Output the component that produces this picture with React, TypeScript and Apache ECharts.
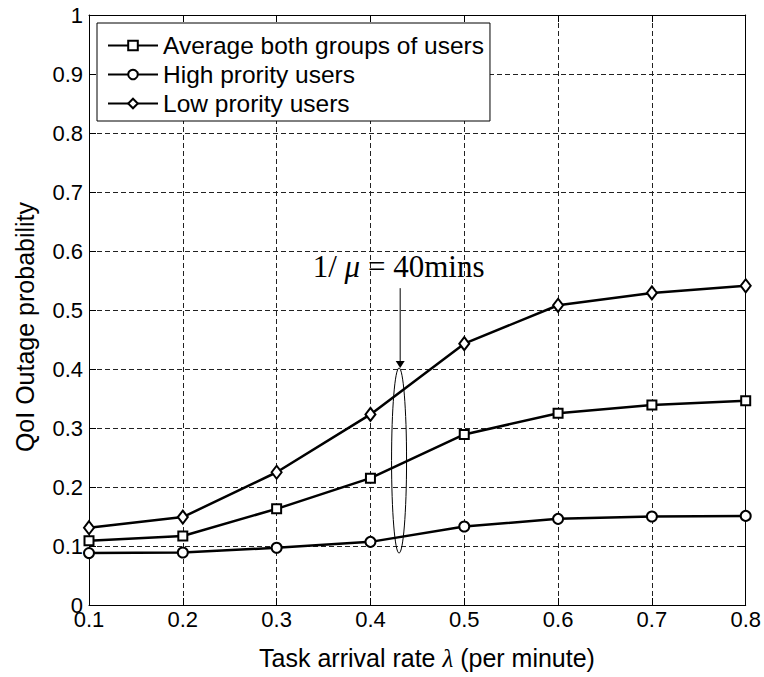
import React, { useEffect, useRef } from "react";
import * as echarts from "echarts";

// Task arrival rate (per minute)
const arrivalRates = [0.1, 0.2, 0.3, 0.4, 0.5, 0.6, 0.7, 0.8];
// QoI outage probability per user group
const averageBoth = [0.109, 0.117, 0.163, 0.215, 0.289, 0.325, 0.339, 0.346];
const highPriority = [0.088, 0.089, 0.097, 0.107, 0.133, 0.146, 0.15, 0.151];
const lowPriority = [0.131, 0.149, 0.225, 0.323, 0.443, 0.508, 0.529, 0.541];

const seriesNames = [
  "Average both groups of users",
  "High prority users",
  "Low prority users",
];
const seriesSymbols = ["rect", "circle", "diamond"];
const seriesSizes: (number | number[])[] = [9, 10, [10, 13]];

// annotation anchor points, in data units
const noteX = 0.4317;
const noteArrowFrom = 0.537;
const noteArrowTo = 0.4017;
const noteEllipseTop = 0.4017;
const noteEllipseBottom = 0.088;
const noteLabelX = 0.43;
const noteLabelY = 0.573;

const SANS = '"Liberation Sans", Arial, Helvetica, sans-serif';
const SERIF = '"Liberation Serif", "Times New Roman", serif';

const fmt = (v: number) => {
  const r = Math.round(v * 10) / 10;
  if (r === 0) return "0";
  if (r === 1) return "1";
  return r.toFixed(1);
};

export default function App() {
  const ref = useRef<HTMLDivElement>(null);

  useEffect(() => {
    if (!ref.current) return;
    const chart = echarts.init(ref.current, null, { renderer: "svg" });

    const values = [averageBoth, highPriority, lowPriority];

    const axisCommon = {
      type: "value" as const,
      axisLine: { show: true, onZero: false, lineStyle: { color: "#000", width: 1 } },
      axisTick: { show: true, inside: true, length: 7, lineStyle: { color: "#000" } },
    };

    chart.setOption({
      animation: false,
      backgroundColor: "#fff",
      grid: { left: 89, right: 17, top: 15, bottom: 72, containLabel: false },
      xAxis: [
        {
          ...axisCommon,
          position: "bottom",
          min: 0.1,
          max: 0.8,
          interval: 0.1,
          axisLabel: {
            formatter: fmt,
            color: "#000",
            fontFamily: SANS,
            fontSize: 22,
            margin: 3,
          },
          splitLine: {
            show: true,
            lineStyle: { color: "#222", width: 1, type: [5, 3] },
          },
        },
        {
          ...axisCommon,
          position: "top",
          min: 0.1,
          max: 0.8,
          interval: 0.1,
          axisLabel: { show: false },
          splitLine: { show: false },
        },
      ],
      yAxis: [
        {
          ...axisCommon,
          position: "left",
          min: 0,
          max: 1,
          interval: 0.1,
          axisLabel: {
            formatter: fmt,
            color: "#000",
            fontFamily: SANS,
            fontSize: 22,
            margin: 6,
          },
          splitLine: {
            show: true,
            lineStyle: { color: "#222", width: 1, type: [5, 3] },
          },
        },
        {
          ...axisCommon,
          position: "right",
          min: 0,
          max: 1,
          interval: 0.1,
          axisLabel: { show: false },
          splitLine: { show: false },
        },
      ],
      legend: {
        show: true,
        selectedMode: false,
        orient: "vertical",
        left: 97,
        top: 23,
        padding: [10, 6, 5, 10],
        itemGap: 4,
        itemWidth: 50,
        itemHeight: 12,
        backgroundColor: "#fff",
        borderColor: "#000",
        borderWidth: 1,
        textStyle: {
          color: "#000",
          fontFamily: SANS,
          fontSize: 24.5,
          lineHeight: 25,
        },
        data: seriesNames,
      },
      series: seriesNames.map((name, i) => ({
        name,
        type: "line",
        data: arrivalRates.map((x, j) => [x, values[i][j]]),
        symbol: seriesSymbols[i],
        symbolSize: seriesSizes[i],
        showSymbol: true,
        lineStyle: { color: "#000", width: 2.5 },
        itemStyle: { color: "#fff", borderColor: "#000", borderWidth: 2 },
        z: 3,
      })),
    });

    const px = (x: number, y: number) =>
      chart.convertToPixel({ xAxisIndex: 0, yAxisIndex: 0 }, [x, y]) as number[];

    const arrowA = px(noteX, noteArrowFrom);
    const arrowB = px(noteX, noteArrowTo);
    const eTop = px(noteX - 0.0012, noteEllipseTop);
    const eBot = px(noteX - 0.0012, noteEllipseBottom);
    const label = px(noteLabelX, noteLabelY);

    chart.setOption({
      graphic: [
        {
          type: "line",
          shape: { x1: arrowA[0], y1: arrowA[1], x2: arrowB[0], y2: arrowB[1] - 6 },
          style: { stroke: "#000", lineWidth: 1 },
          z: 10,
        },
        {
          type: "polygon",
          shape: {
            points: [
              [arrowB[0] - 4.5, arrowB[1] - 7],
              [arrowB[0] + 4.5, arrowB[1] - 7],
              [arrowB[0], arrowB[1]],
            ],
          },
          style: { fill: "#000" },
          z: 10,
        },
        {
          type: "ellipse",
          shape: {
            cx: eTop[0],
            cy: (eTop[1] + eBot[1]) / 2,
            rx: 7.5,
            ry: (eBot[1] - eTop[1]) / 2,
          },
          style: { fill: "none", stroke: "#000", lineWidth: 1 },
          z: 10,
        },
        {
          type: "text",
          x: label[0],
          y: label[1],
          style: {
            text: "{n|1/ }{m|μ}{n| = 40mins}",
            align: "center",
            verticalAlign: "middle",
            rich: {
              n: { fontFamily: SERIF, fontSize: 31, fill: "#000", color: "#000" },
              m: { fontFamily: SERIF, fontSize: 31, fontStyle: "italic", fill: "#000", color: "#000" },
            },
          },
          z: 10,
        },
        {
          type: "text",
          x: 427,
          y: 658,
          style: {
            text: "{a|Task arrival rate }{l|λ}{a| (per minute)}",
            align: "center",
            verticalAlign: "middle",
            rich: {
              a: { fontFamily: SANS, fontSize: 25, fill: "#000", color: "#000" },
              l: { fontFamily: SERIF, fontSize: 25, fontStyle: "italic", fill: "#000", color: "#000" },
            },
          },
        },
        {
          type: "text",
          x: 25,
          y: 327,
          rotation: Math.PI / 2,
          style: {
            text: "QoI Outage probability",
            fontFamily: SANS,
            fontSize: 25,
            fill: "#000",
            align: "center",
            verticalAlign: "middle",
          },
        },
      ],
    });

    return () => chart.dispose();
  }, []);

  return (
    <div
      ref={ref}
      style={{ width: 764, height: 677, position: "absolute", left: 0, top: 0 }}
    />
  );
}
